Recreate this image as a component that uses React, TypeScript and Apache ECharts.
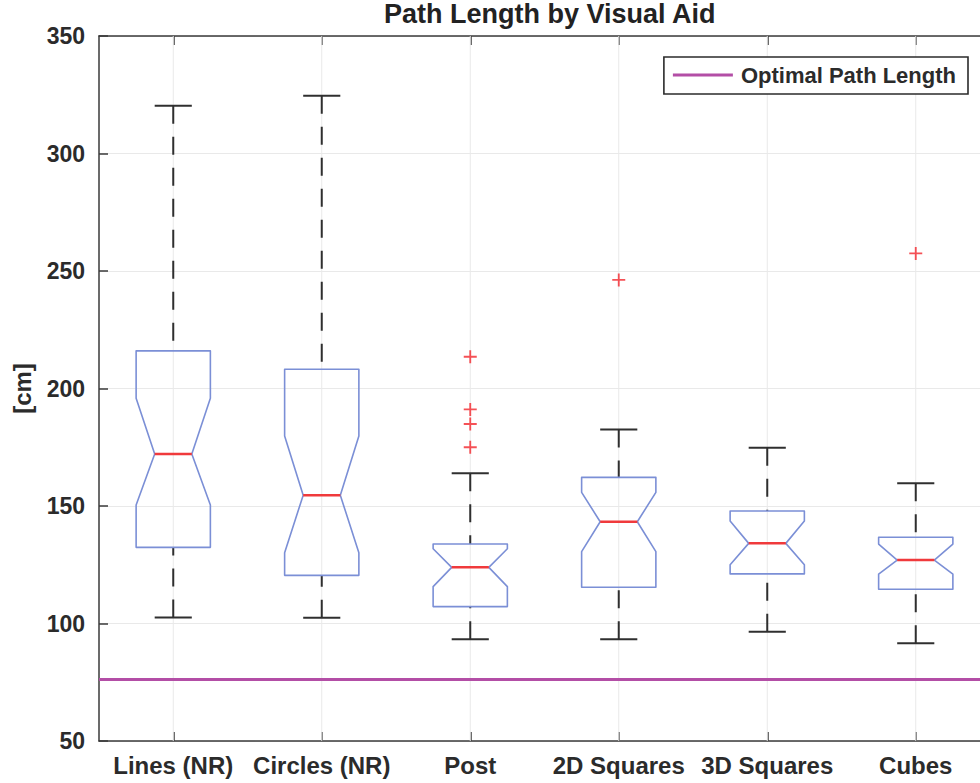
import React, { useEffect, useRef } from "react";
import * as echarts from "echarts";

const categories = ["Lines (NR)", "Circles (NR)", "Post", "2D Squares", "3D Squares", "Cubes"];
const lowerWhisker = [102.6, 102.5, 93.3, 93.3, 96.5, 91.6];
const q1 = [132.4, 120.5, 107.2, 115.4, 121.1, 114.6];
const notchLow = [150.4, 130.1, 115.7, 130.6, 125.0, 121.0];
const median = [172.1, 154.6, 123.9, 143.3, 134.1, 127.0];
const notchHigh = [195.8, 179.8, 131.8, 155.8, 143.6, 133.8];
const q3 = [216.0, 208.2, 133.8, 162.2, 147.9, 136.7];
const upperWhisker = [320.3, 324.6, 163.9, 182.6, 174.8, 159.7];
const outlierCategory = [2, 2, 2, 2, 3, 5];
const outlierValue = [213.5, 191.1, 184.9, 175.0, 246.2, 257.5];
const optimalPathLength = 76.4;
const yTicks = { min: 50, max: 350, interval: 50 };

const FONT = "'Liberation Sans', Arial, Helvetica, sans-serif";
const TEXT = "#2b2b2b";
const AXIS = "#3a3a3a";

export default function App() {
  const ref = useRef<HTMLDivElement>(null);

  useEffect(() => {
    if (!ref.current) return;
    const chart = echarts.init(ref.current, undefined, { renderer: "svg" });

    const boxData = categories.map((_, i) => [
      i,
      lowerWhisker[i],
      q1[i],
      notchLow[i],
      median[i],
      notchHigh[i],
      q3[i],
      upperWhisker[i],
    ]);
    const outliers = outlierCategory.map((c, i) => [c, outlierValue[i]]);

    const renderBox = (params: any, api: any) => {
      const xi = api.value(0);
      const pt = (v: number) => api.coord([xi, v]);
      const bw = api.size([1, 0])[0] * 0.5;
      const hw = bw / 2;
      const cx = pt(api.value(4))[0];
      const y = (k: number) => pt(api.value(k))[1];
      const yLo = y(1), yQ1 = y(2), yNL = y(3), yMed = y(4), yNH = y(5), yQ3 = y(6), yHi = y(7);
      const whisk = { stroke: "#2f2f2f", lineWidth: 2, lineDash: [18, 13] };
      const cap = { stroke: "#2f2f2f", lineWidth: 2 };
      return {
        type: "group",
        children: [
          { type: "line", shape: { x1: cx, y1: yHi, x2: cx, y2: yQ3 }, style: whisk },
          { type: "line", shape: { x1: cx, y1: yLo, x2: cx, y2: yQ1 }, style: whisk },
          { type: "line", shape: { x1: cx - hw / 2, y1: yHi, x2: cx + hw / 2, y2: yHi }, style: cap },
          { type: "line", shape: { x1: cx - hw / 2, y1: yLo, x2: cx + hw / 2, y2: yLo }, style: cap },
          {
            type: "polygon",
            shape: {
              points: [
                [cx - hw, yQ3],
                [cx + hw, yQ3],
                [cx + hw, yNH],
                [cx + hw / 2, yMed],
                [cx + hw, yNL],
                [cx + hw, yQ1],
                [cx - hw, yQ1],
                [cx - hw, yNL],
                [cx - hw / 2, yMed],
                [cx - hw, yNH],
              ],
            },
            style: { fill: "none", stroke: "#7b8fd6", lineWidth: 1.6, lineJoin: "round" },
          },
          {
            type: "line",
            shape: { x1: cx - hw / 2, y1: yMed, x2: cx + hw / 2, y2: yMed },
            style: { stroke: "#f03a3c", lineWidth: 2.5 },
          },
        ],
      };
    };

    const renderGrid = (params: any, api: any) => {
      const xi = api.value(0);
      const top = api.coord([xi, yTicks.max]);
      const bot = api.coord([xi, yTicks.min]);
      return {
        type: "line",
        shape: { x1: top[0], y1: top[1], x2: bot[0], y2: bot[1] },
        style: { stroke: "#e9e9e9", lineWidth: 1 },
      };
    };

    const xAxisBase = {
      type: "category",
      data: categories,
      boundaryGap: true,
      axisLine: { show: true, lineStyle: { color: AXIS, width: 1.5 } },
      axisTick: { show: true, inside: true, alignWithLabel: true, length: 9, lineStyle: { color: AXIS, width: 1.5 } },
      splitLine: { show: false },
    };
    const yAxisBase = {
      type: "value",
      min: yTicks.min,
      max: yTicks.max,
      interval: yTicks.interval,
      axisLine: { show: true, lineStyle: { color: AXIS, width: 1.5 } },
      axisTick: { show: true, inside: true, length: 9, lineStyle: { color: AXIS, width: 1.5 } },
    };

    chart.setOption({
      animation: false,
      backgroundColor: "#ffffff",
      title: {
        text: "Path Length by Visual Aid",
        left: 384,
        top: 0,
        padding: 0,
        textStyle: { fontFamily: FONT, fontSize: 27, fontWeight: "bold", color: "#222222" },
      },
      legend: {
        data: [{ name: "Optimal Path Length", icon: "rect" }],
        right: 22,
        top: 57,
        padding: [7, 12, 8, 9],
        itemWidth: 60,
        itemHeight: 3,
        borderColor: "#2b2b2b",
        borderWidth: 1.6,
        backgroundColor: "#ffffff",
        textStyle: { fontFamily: FONT, fontSize: 22, fontWeight: "bold", color: TEXT, padding: [0, 0, 0, 3] },
      },
      grid: { left: 99, right: 0, top: 36, bottom: 42 },
      xAxis: [
        {
          ...xAxisBase,
          position: "bottom",
          axisLabel: { fontFamily: FONT, fontSize: 24, fontWeight: "bold", color: TEXT, margin: 12, interval: 0 },
        },
        {
          ...xAxisBase,
          position: "top",
          axisLabel: { show: false },
        },
      ],
      yAxis: [
        {
          ...yAxisBase,
          position: "left",
          name: "[cm]",
          nameLocation: "middle",
          nameGap: 65,
          nameRotate: 90,
          nameTextStyle: { fontFamily: FONT, fontSize: 24, fontWeight: "bold", color: TEXT },
          axisLabel: { fontFamily: FONT, fontSize: 23, fontWeight: "bold", color: TEXT, margin: 14 },
          splitLine: { show: true, lineStyle: { color: "#e9e9e9", width: 1 } },
        },
        {
          ...yAxisBase,
          position: "right",
          axisLabel: { show: false },
          splitLine: { show: false },
        },
      ],
      series: [
        {
          type: "custom",
          name: "grid",
          silent: true,
          z: 1,
          data: boxData,
          encode: { x: 0, y: [1, 7] },
          renderItem: renderGrid,
        },
        {
          type: "line",
          name: "Optimal Path Length",
          data: [],
          z: 2,
          color: "#b34ea6",
          lineStyle: { color: "#b34ea6", width: 3 },
          markLine: {
            silent: true,
            symbol: "none",
            label: { show: false },
            lineStyle: { color: "#b34ea6", width: 3, type: "solid" },
            data: [{ yAxis: optimalPathLength }],
          },
        },
        {
          type: "custom",
          name: "boxes",
          z: 3,
          data: boxData,
          encode: { x: 0, y: [1, 2, 3, 4, 5, 6, 7] },
          renderItem: renderBox,
        },
        {
          type: "scatter",
          name: "outliers",
          z: 4,
          data: outliers,
          symbol: "path://M6,0h2v6h6v2h-6v6h-2v-6h-6v-2h6z",
          symbolSize: 13,
          itemStyle: { color: "#f2262c" },
        },
      ],
    });

    return () => chart.dispose();
  }, []);

  return (
    <div
      style={{ position: "fixed", left: 0, top: 0, width: 980, height: 783, overflow: "hidden", background: "#fff" }}
    >
      <div ref={ref} style={{ position: "absolute", left: 0, top: 0, width: 990, height: 783 }} />
    </div>
  );
}
